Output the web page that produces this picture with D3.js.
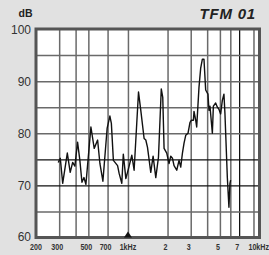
<!DOCTYPE html>
<html>
<head>
<meta charset="utf-8">
<script src="https://cdn.jsdelivr.net/npm/d3@7"></script>
<style>
  body { margin: 0; background: #e1e1e1; }
  svg { display: block; }
  .grid line { stroke: #6a6a6a; stroke-width: 1.5; }
  .grid path { display: none; }
  .ylab { font-family: "Liberation Sans", Arial, sans-serif; font-size: 12px; fill: #333; }
  .xlab { font-family: "Liberation Sans", Arial, sans-serif; font-size: 9.5px; font-weight: bold; fill: #333; }
</style>
</head>
<body>
<div id="chart"></div>
<script>
// Set up chart
var svgWidth = 269;
var svgHeight = 255;
var plot = {left: 36, right: 259.5, top: 29, bottom: 237.5};
var width = plot.right - plot.left;
var height = plot.bottom - plot.top;

// Frequency response (Hz, dB)
var freqs = [295, 306, 319, 346, 364, 380, 395, 414, 431, 447, 463, 479, 523, 554, 588, 612, 645, 695, 729, 748,
  775, 834, 857, 898, 922, 964, 1021, 1070, 1114, 1203, 1252, 1327, 1367, 1408, 1491, 1553, 1628, 1706, 1792, 1839,
  1882, 1972, 2053, 2115, 2179, 2241, 2349, 2445, 2519, 2595, 2669, 2749, 2861, 2963, 3036, 3145, 3178, 3273, 3331, 3467,
  3572, 3679, 3784, 3898, 4058, 4129, 4202, 4382, 4460, 4643, 4783, 4918, 5065, 5218, 5366, 5461, 5695, 5857, 5961, 6034];
var levels = [74.4, 75.2, 70.4, 76.2, 72.5, 74.4, 73.7, 78.3, 74.8, 70.6, 71.5, 70.2, 81.2, 77.1, 78.7, 74.2, 70.8, 81.0, 83.3, 81.9,
  74.8, 73.8, 72.3, 70.4, 76.0, 71.3, 73.7, 75.8, 72.9, 87.9, 84.4, 79.0, 78.7, 77.3, 72.5, 75.6, 71.5, 75.4, 88.5, 86.9,
  77.1, 76.2, 74.2, 75.6, 75.2, 73.8, 72.9, 74.8, 73.5, 76.2, 78.1, 79.6, 80.0, 82.1, 82.5, 82.5, 84.2, 82.5, 81.2, 88.8,
  92.5, 94.2, 94.2, 88.3, 87.5, 84.4, 85.2, 80.0, 85.2, 85.8, 85.0, 84.6, 83.7, 86.3, 87.5, 83.8, 71.5, 65.8, 70.4, 71.0];

// Grid and tick labels
var gridFreqs = [300, 400, 500, 700, 1000, 2000, 3000, 4000, 5000, 6000, 7000, 9000];
var darkFreqs = [7000];
var gridLevels = [65, 70, 75, 80, 85, 90, 95];
var darkLevels = [70, 75];
var freqLabels = [200, 300, 500, 700, 1000, 2000, 3000, 5000, 7000, 10000];
var freqLabelText = ["200", "300", "500", "700", "1kHz", "2", "3", "5", "7", "10kHz"];
var levelLabels = [60, 70, 80, 90, 100];

var svg = d3.select("#chart")
  .append("svg")
  .attr("width", svgWidth)
  .attr("height", svgHeight);

svg.append("rect")
  .attr("width", svgWidth)
  .attr("height", svgHeight)
  .attr("fill", "#e1e1e1");

// Scales
var xScale = d3.scaleLog()
  .domain([200, 10000])
  .range([plot.left, plot.right]);

var yScale = d3.scaleLinear()
  .domain([60, 100])
  .range([plot.bottom, plot.top]);

// Plot area
svg.append("rect")
  .attr("x", plot.left)
  .attr("y", plot.top)
  .attr("width", width)
  .attr("height", height)
  .attr("fill", "#fff");

// Vertical grid
svg.append("g")
  .attr("class", "grid")
  .attr("transform", `translate(0, ${plot.bottom})`)
  .call(d3.axisBottom(xScale).tickValues(gridFreqs).tickSize(-height).tickFormat(""))
  .selectAll("line")
  .filter(d => darkFreqs.indexOf(d) >= 0)
  .style("stroke", "#111")
  .style("stroke-width", 1.3);

// Horizontal grid
svg.append("g")
  .attr("class", "grid")
  .attr("transform", `translate(${plot.left}, 0)`)
  .call(d3.axisLeft(yScale).tickValues(gridLevels).tickSize(-width).tickFormat(""))
  .selectAll("line")
  .filter(d => darkLevels.indexOf(d) >= 0)
  .style("stroke", "#111")
  .style("stroke-width", 1.2);

// Response curve
var line = d3.line()
  .x((d, i) => xScale(freqs[i]))
  .y(d => yScale(d));

svg.append("path")
  .datum(levels)
  .attr("d", line)
  .attr("fill", "none")
  .attr("stroke", "#111")
  .attr("stroke-width", 1.4)
  .attr("stroke-linejoin", "round");

// Frame
svg.append("rect")
  .attr("x", plot.left)
  .attr("y", plot.top)
  .attr("width", width)
  .attr("height", height)
  .attr("fill", "none")
  .attr("stroke", "#555")
  .attr("stroke-width", 3);

// 1 kHz marker
var mx = xScale(1000);
svg.append("path")
  .attr("d", `M${mx - 4},${plot.bottom} L${mx},${plot.bottom - 6} L${mx + 4},${plot.bottom} Z`)
  .attr("fill", "#111");

// Y labels
svg.selectAll(".ylab")
  .data(levelLabels)
  .enter()
  .append("text")
  .attr("class", "ylab")
  .attr("x", 31)
  .attr("y", d => yScale(d) + (d == 60 ? 3 : 4.5))
  .attr("text-anchor", "end")
  .text(d => d);

// X labels, squeezed to look condensed
svg.selectAll(".xlab")
  .data(freqLabels)
  .enter()
  .append("text")
  .attr("class", "xlab")
  .attr("text-anchor", (d, i) => i == 9 ? "end" : "middle")
  .attr("transform", function(d, i) {
    var x = i == 9 ? 269 : xScale(d) - (i > 0 && i != 4 ? 2 : 0);
    return `translate(${x}, 249.5) scale(0.75, 1)`;
  })
  .text((d, i) => freqLabelText[i]);

// Titles
svg.append("text")
  .attr("x", 25.5)
  .attr("y", 17)
  .attr("text-anchor", "middle")
  .style("font-family", "Liberation Sans, Arial, sans-serif")
  .style("font-size", "10.5px")
  .style("font-weight", "bold")
  .style("fill", "#222")
  .text("dB");

svg.append("text")
  .attr("x", 256)
  .attr("y", 18.5)
  .attr("text-anchor", "end")
  .style("font-family", "Liberation Sans, Arial, sans-serif")
  .style("font-size", "15px")
  .style("font-weight", "bold")
  .style("font-style", "italic")
  .style("letter-spacing", "0.8px")
  .style("fill", "#222")
  .text("TFM 01");
</script>
</body>
</html>
